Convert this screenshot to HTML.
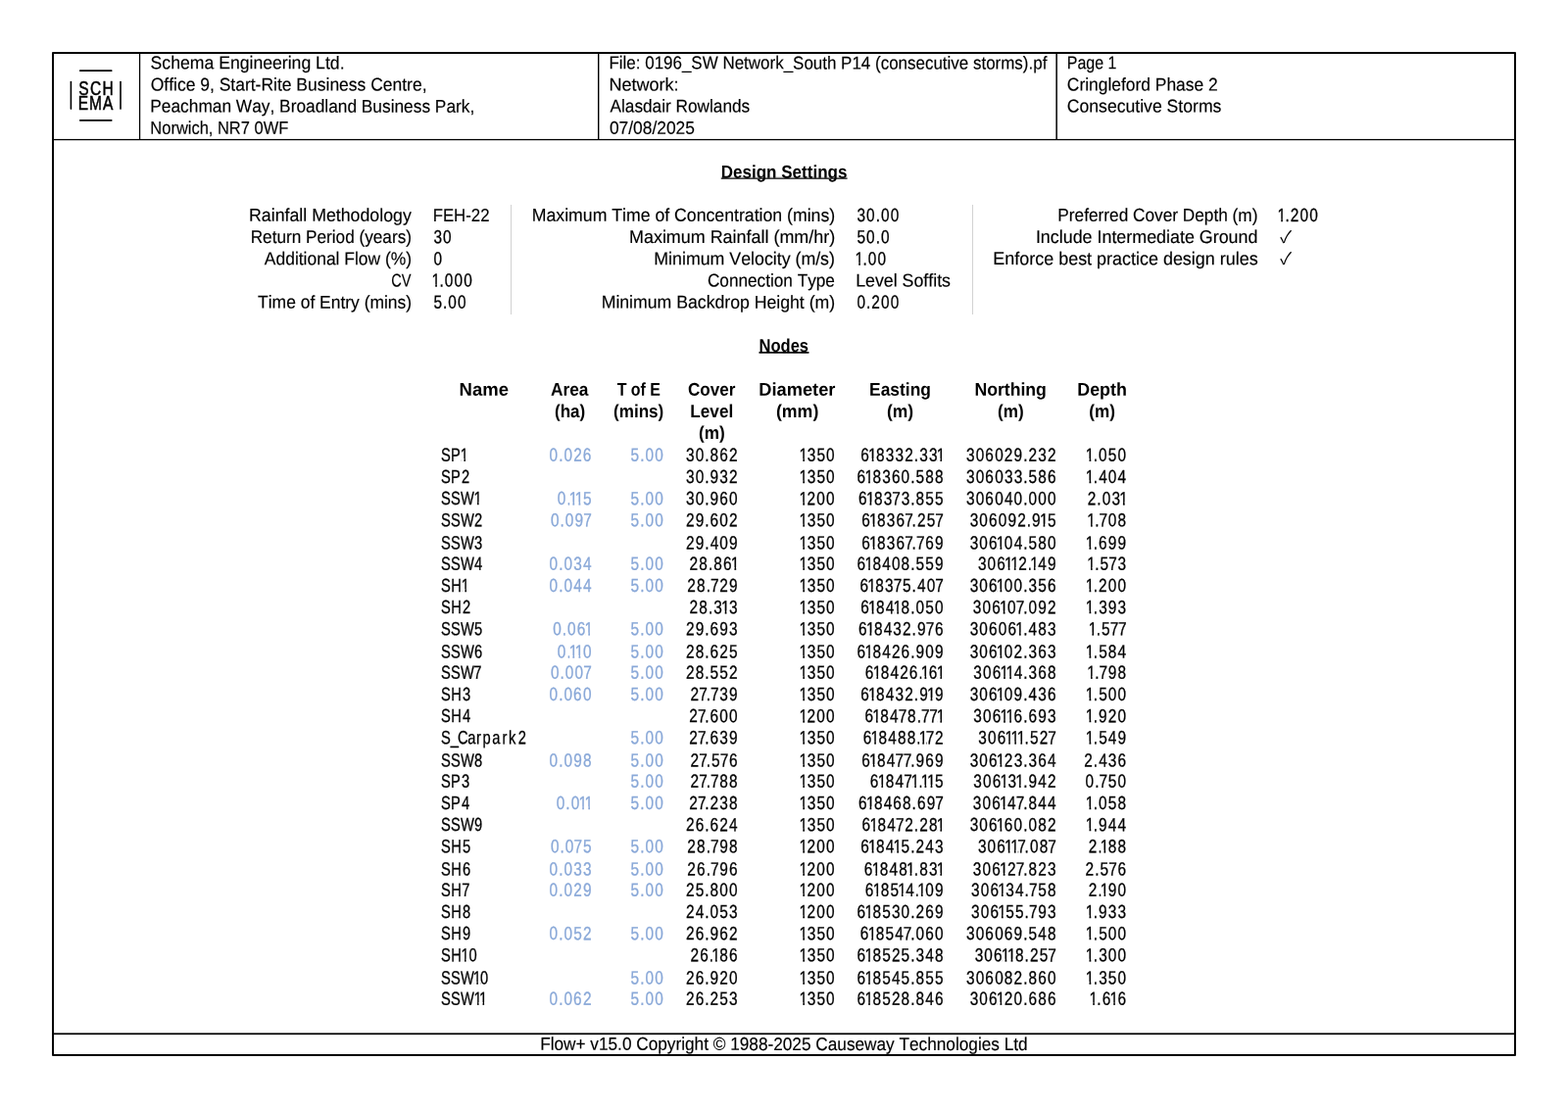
<!DOCTYPE html>
<html lang="en">
<head>
<meta charset="utf-8">
<title>Flow+ Design Settings and Nodes</title>
<style>
*{box-sizing:border-box;margin:0;padding:0}
html,body{width:1600px;height:1132px;background:#fff;overflow:hidden}
body{font-family:"Liberation Sans",sans-serif;font-size:18.5px;line-height:21px;color:#000;
font-kerning:none;-webkit-text-stroke:0.15px currentColor}
.page{position:relative;width:1600px;height:1132px;overflow:hidden}
.rules{position:absolute;left:0;top:0;width:1600px;height:1132px}
.t{display:block;white-space:nowrap;transform:translate(var(--o,0px),var(--y,0px)) rotate(.04deg) scaleX(var(--s,.9))}
.hc{position:absolute;top:53px;height:89px;overflow:hidden}
.hc div{height:22px}
.hc div:nth-child(3){height:23px}
.hc .t{transform-origin:0 50%}
.logo{position:absolute;left:55px;top:55px;width:87px;height:87px}
h1,h2{position:absolute;left:0;width:1600px;text-align:center;font-size:18.5px;font-weight:700;
line-height:21px;-webkit-text-stroke:0}
h1 .t,h2 .t{display:inline-block;background:linear-gradient(#808080 50%,#000 50%) no-repeat 0 16px/100% 2px}
h2 .t{background-image:linear-gradient(#000 50%,#444 50%);background-position:0 17px}
.set{position:absolute;border-collapse:collapse}
.set td{padding:0;height:22px;white-space:nowrap;vertical-align:top}
.set .x td{height:23px}
.set .v{font-size:18.6px}
.set .k{width:400px;text-align:right}
.set .k .t{transform-origin:100% 50%}
.set .v .t{transform-origin:0 50%}
.set svg{display:block;width:60px;height:21px;overflow:visible}
.set text{font-size:19px;fill:#000;stroke:#000;stroke-width:0.3px;transform:rotate(.05deg) scaleX(0.81)}
.set path{fill:#fff}
.set .ck text{font-family:"Noto Sans CJK JP","DejaVu Sans",sans-serif;font-size:17.2px;stroke:none;transform:none}
.vr{position:absolute;top:208.5px;width:1.2px;height:112px;background:#d2d2d2}
.nt{position:absolute;left:0;top:387px;width:1600px;border-collapse:collapse;table-layout:fixed}
.nt th{padding:0;font-weight:700;text-align:center;vertical-align:top;height:66px;-webkit-text-stroke:0}
.nt th .t{height:22px}
.nt th .t{transform-origin:50% 50%}
.nt td{padding:0;height:22px;line-height:0}
.nt .x td{height:23px}
.nt svg{display:block;width:100%;height:22px;overflow:visible}
.nt text{font-size:19px;fill:#000;stroke:#000;stroke-width:0.3px;transform:rotate(.05deg) scaleX(0.81)}
.nt .m text{transform:rotate(.05deg) scaleX(0.772)}
.nt .b text{fill:#89a8d8;stroke:#89a8d8}
.nt path{fill:#fff}
.foot{position:absolute;left:55px;top:1055px;width:1490px;text-align:center}
.foot .t{display:inline-block}
</style>
</head>
<body>
<div class="page">
<svg class="rules" viewBox="0 0 1600 1132" aria-hidden="true">
<rect x="54" y="54" width="1492" height="1023" fill="none" stroke="#000" stroke-width="2" stroke-linejoin="round"/>
<rect x="55" y="141.9" width="1490" height="1.3" fill="#000"/>
<rect x="141.9" y="55" width="1.3" height="87" fill="#000"/>
<rect x="610" y="55" width="1.4" height="87" fill="#000"/>
<rect x="1077.4" y="55" width="1.5" height="87" fill="#000"/>
<rect x="55" y="1054.4" width="1490" height="1.7" fill="#000"/>
</svg>
<svg class="logo" viewBox="55 55 87 87" role="img" aria-label="Schema">
<g stroke="#000" stroke-width="1.6" stroke-linecap="round"><line x1="81.7" y1="72.15" x2="113.8" y2="72.15"/><line x1="81.7" y1="122.9" x2="113.8" y2="122.9"/>
<line x1="72.4" y1="83.5" x2="72.4" y2="111.1"/><line x1="123" y1="83.5" x2="123" y2="111.1"/></g>
<g font-family="Liberation Sans, sans-serif" font-size="19.4" fill="#000" stroke="#000" stroke-width=".5" transform="scale(0.8 1)">
<text x="100.3 114.9 130.7" y="97.05">SCH</text>
<text x="99.6 113.9 131.2" y="111.8">EMA</text></g>
</svg>
<header>
<div class="hc" style="left:143.2px;width:466.8px;padding-left:11.3px">
<div class="t" style="--y:0.25px;--s:0.9528;--o:-0.41px;">Schema Engineering Ltd.</div>
<div class="t" style="--y:0.40px;--s:0.9452;--o:-0.30px;">Office 9, Start-Rite Business Centre,</div>
<div class="t" style="--y:0.50px;--s:0.9356;--o:-0.69px;">Peachman Way, Broadland Business Park,</div>
<div class="t" style="--y:-0.35px;--s:0.8901;--o:-0.64px;">Norwich, NR7 0WF</div>
</div>
<div class="hc" style="left:611.4px;width:457.3px;padding-left:11.2px">
<div class="t" style="--y:0.25px;--s:0.9170;--o:-1.56px;">File: 0196_SW Network_South P14 (consecutive storms).pf</div>
<div class="t" style="--y:0.40px;--s:0.9746;--o:-1.60px;">Network:</div>
<div class="t" style="--y:0.50px;--s:0.9314;--o:-0.52px;">Alasdair Rowlands</div>
<div class="t" style="--y:-0.35px;--s:0.9398;--o:-1.06px;">07/08/2025</div>
</div>
<div class="hc" style="left:1078.9px;width:466.1px;padding-left:10.9px">
<div class="t" style="--y:0.25px;--s:0.8629;--o:-1.25px;">Page 1</div>
<div class="t" style="--y:0.40px;--s:0.9405;--o:-1.14px;">Cringleford Phase 2</div>
<div class="t" style="--y:0.50px;--s:0.9525;--o:-1.25px;">Consecutive Storms</div>
</div>
</header>
<main>
<h1 style="top:165px"><span class="t" style="--y:-0.30px;--s:0.9203;--o:0.19px;">Design Settings</span></h1>
<table class="set" style="left:20.0px;top:209px"><tbody>
<tr><td class="k"><span class="t" style="--y:-0.10px;--s:0.9591;--o:-0.23px;">Rainfall Methodology</span></td><td style="width:22.4px"></td><td class="v"><span class="t" style="--y:-0.10px;--s:0.9021;--o:-0.33px;">FEH-22</span></td></tr>
<tr><td class="k"><span class="t" style="--y:0.10px;--s:0.9289;--o:-0.03px;">Return Period (years)</span></td><td style="width:22.4px"></td><td class="v"><svg><text x="0.6 12.5" y="17.2">30</text></svg></td></tr>
<tr><td class="k"><span class="t" style="--y:0.30px;--s:0.9428;--o:0.11px;">Additional Flow (%)</span></td><td style="width:22.4px"></td><td class="v"><svg><text x="0.5" y="17.4">0</text></svg></td></tr>
<tr class="x"><td class="k"><span class="t" style="--y:0.50px;--s:0.7871;--o:-0.59px;">CV</span></td><td style="width:22.4px"></td><td class="v"><svg><text x="-1.9 7.9 14.5 26.5 38.5" y="17.6">1.000</text><path d="M-1.9 15.0h4.1v4.3h-4.1zM3.9 15.0h3.0v4.3h-3.0z"/></svg></td></tr>
<tr><td class="k"><span class="t" style="--y:-0.30px;--s:0.9430;--o:0.12px;">Time of Entry (mins)</span></td><td style="width:22.4px"></td><td class="v"><svg><text x="0.5 12.4 19.0 31.0" y="16.8">5.00</text></svg></td></tr>
</tbody></table>
<table class="set" style="left:451.6px;top:209px"><tbody>
<tr><td class="k"><span class="t" style="--y:-0.10px;--s:0.9554;--o:0.17px;">Maximum Time of Concentration (mins)</span></td><td style="width:22.4px"></td><td class="v"><svg><text x="0.6 12.5 24.4 31.0 43.0" y="17.0">30.00</text></svg></td></tr>
<tr><td class="k"><span class="t" style="--y:0.10px;--s:0.9689;--o:0.17px;">Maximum Rainfall (mm/hr)</span></td><td style="width:22.4px"></td><td class="v"><svg><text x="0.5 12.5 24.4 31.0" y="17.2">50.0</text></svg></td></tr>
<tr><td class="k"><span class="t" style="--y:0.30px;--s:0.9605;--o:-0.06px;">Minimum Velocity (m/s)</span></td><td style="width:22.4px"></td><td class="v"><svg><text x="-1.9 7.9 14.5 26.5" y="17.4">1.00</text><path d="M-1.9 14.8h4.1v4.3h-4.1zM3.9 14.8h3.0v4.3h-3.0z"/></svg></td></tr>
<tr class="x"><td class="k"><span class="t" style="--y:0.50px;--s:0.9291;--o:-0.11px;">Connection Type</span></td><td style="width:22.4px"></td><td class="v"><span class="t" style="--y:0.50px;--s:0.9557;--o:-0.82px;">Level Soffits</span></td></tr>
<tr><td class="k"><span class="t" style="--y:-0.30px;--s:0.9547;--o:0.18px;">Minimum Backdrop Height (m)</span></td><td style="width:22.4px"></td><td class="v"><svg><text x="0.5 12.4 19.0 31.0 43.0" y="16.8">0.200</text></svg></td></tr>
</tbody></table>
<table class="set" style="left:883.0px;top:209px"><tbody>
<tr><td class="k"><span class="t" style="--y:-0.10px;--s:0.9321;--o:0.47px;">Preferred Cover Depth (m)</span></td><td style="width:21.8px"></td><td class="v"><svg><text x="-1.9 7.9 14.5 26.5 38.5" y="17.0">1.200</text><path d="M-1.9 14.4h4.1v4.3h-4.1zM3.9 14.4h3.0v4.3h-3.0z"/></svg></td></tr>
<tr><td class="k"><span class="t" style="--y:0.10px;--s:0.9660;--o:0.42px;">Include Intermediate Ground</span></td><td style="width:21.8px"></td><td class="v"><svg class="ck"><text x="1.2" y="16.7">✓</text></svg></td></tr>
<tr><td class="k"><span class="t" style="--y:0.30px;--s:0.9700;--o:0.68px;">Enforce best practice design rules</span></td><td style="width:21.8px"></td><td class="v"><svg class="ck"><text x="1.2" y="16.9">✓</text></svg></td></tr>
</tbody></table>
<div class="vr" style="left:520.7px"></div>
<div class="vr" style="left:991.5px"></div>
<h2 style="top:342px"><span class="t" style="--s:0.8934;--o:-0.48px;">Nodes</span></h2>
<table class="nt"><colgroup>
<col style="width:450px">
<col style="width:88px">
<col style="width:66px">
<col style="width:73px">
<col style="width:76px">
<col style="width:99px">
<col style="width:111px">
<col style="width:115px">
<col style="width:72px">
<col style="width:450px"></colgroup>
<thead><tr><th></th>
<th><span class="t" style="--y:-0.30px;--s:1.0006;--o:-0.24px;">Name</span></th>
<th style="padding-left:21.0px"><span class="t" style="--y:-0.30px;--s:0.9353;--o:-0.27px;">Area</span> <span class="t" style="--y:-0.10px;--s:0.9233;--o:0.11px;">(ha)</span></th>
<th style="padding-left:22.0px"><span class="t" style="--y:-0.30px;--s:0.8611;--o:0.12px;">T of E</span> <span class="t" style="--y:-0.10px;--s:0.9230;--o:-1.93px;">(mins)</span></th>
<th style="padding-left:22.8px"><span class="t" style="--y:-0.30px;--s:0.9224;--o:-0.43px;">Cover</span> <span class="t" style="--y:-0.10px;--s:0.9263;--o:-0.31px;">Level</span> <span class="t" style="--y:0.10px;--s:0.9291;--o:-0.27px;">(m)</span></th>
<th style="padding-left:22.5px"><span class="t" style="--y:-0.30px;--s:0.9869;--o:-2.23px;">Diameter</span> <span class="t" style="--y:-0.10px;--s:0.9592;--o:-0.62px;">(mm)</span></th>
<th style="padding-left:22.0px"><span class="t" style="--y:-0.30px;--s:0.9392;">Easting</span> <span class="t" style="--y:-0.10px;--s:0.9429;--o:0.05px;">(m)</span></th>
<th style="padding-left:21.5px"><span class="t" style="--y:-0.30px;--s:0.9537;--o:-0.61px;">Northing</span> <span class="t" style="--y:-0.10px;--s:0.9261;--o:-0.40px;">(m)</span></th>
<th style="padding-left:21.2px"><span class="t" style="--y:-0.30px;--s:0.9644;--o:-0.62px;">Depth</span> <span class="t" style="--y:-0.10px;--s:0.9258;--o:0.17px;">(m)</span></th>
<th></th></tr></thead><tbody>
<tr><td></td><td class="m"><svg><text x="-0.1 13.1 25.7" y="17.7">SP1</text><path d="M20.4 15.1h3.0v4.3h-3.0zM25.0 15.1h3.9v4.3h-3.9z"/></svg></td><td class="b"><svg><text x="27.8 39.7 46.3 58.3 70.2" y="17.7">0.026</text></svg></td><td class="b"><svg><text x="48.9 60.7 67.3 79.3" y="17.7">5.00</text></svg></td><td><svg><text x="28.4 40.4 52.2 58.8 70.7 82.8" y="17.7">30.862</text></svg></td><td><svg><text x="77.3 87.3 99.3 111.2" y="17.7">1350</text><path d="M62.2 15.1h4.1v4.3h-4.1zM68.0 15.1h3.0v4.3h-3.0z"/></svg></td><td><svg><text x="32.4 42.1 52.0 64.0 76.0 88.0 99.8 106.5 118.5 128.0" y="17.7">618332.331</text><path d="M34.6 15.1h3.1v4.3h-3.1zM39.5 15.1h3.0v4.3h-3.0zM104.3 15.1h3.1v4.3h-3.1zM109.1 15.1h4.0v4.3h-4.0z"/></svg></td><td><svg><text x="28.5 40.4 52.3 64.4 76.4 88.4 100.2 106.8 118.9 130.8" y="17.7">306029.232</text></svg></td><td><svg><text x="36.9 46.7 53.2 65.3 77.2" y="17.7">1.050</text><path d="M29.4 15.1h4.1v4.3h-4.1zM35.3 15.1h3.0v4.3h-3.0z"/></svg></td><td></td></tr>
<tr><td></td><td class="m"><svg><text x="-0.1 13.1 27.2" y="17.9">SP2</text></svg></td><td></td><td></td><td><svg><text x="28.4 40.4 52.2 58.8 70.8 82.8" y="17.9">30.932</text></svg></td><td><svg><text x="77.3 87.3 99.3 111.2" y="17.9">1350</text><path d="M62.2 15.3h4.1v4.3h-4.1zM68.0 15.3h3.0v4.3h-3.0z"/></svg></td><td><svg><text x="27.9 37.6 47.5 59.6 71.5 83.5 95.4 102.0 113.9 125.9" y="17.9">618360.588</text><path d="M31.0 15.3h3.1v4.3h-3.1zM35.9 15.3h3.0v4.3h-3.0z"/></svg></td><td><svg><text x="28.5 40.4 52.3 64.4 76.5 88.5 100.2 106.8 118.8 130.8" y="17.9">306033.586</text></svg></td><td><svg><text x="36.9 46.7 53.3 65.2 77.3" y="17.9">1.404</text><path d="M29.4 15.3h4.1v4.3h-4.1zM35.3 15.3h3.0v4.3h-3.0z"/></svg></td><td></td></tr>
<tr><td></td><td class="m"><svg><text x="-0.1 13.1 26.0 43.3" y="18.1">SSW1</text><path d="M34.0 15.5h3.0v4.3h-3.0zM38.6 15.5h3.9v4.3h-3.9z"/></svg></td><td class="b"><svg><text x="38.0 49.9 52.8 60.3 70.3" y="18.1">0.115</text><path d="M43.3 15.5h3.1v4.3h-3.1zM48.2 15.5h3.0v4.3h-3.0zM49.4 15.5h3.1v4.3h-3.1zM54.3 15.5h3.0v4.3h-3.0z"/></svg></td><td class="b"><svg><text x="48.9 60.7 67.3 79.3" y="18.1">5.00</text></svg></td><td><svg><text x="28.4 40.4 52.2 58.8 70.7 82.8" y="18.1">30.960</text></svg></td><td><svg><text x="77.3 87.2 99.2 111.2" y="18.1">1200</text><path d="M62.2 15.5h4.1v4.3h-4.1zM68.0 15.5h3.0v4.3h-3.0z"/></svg></td><td><svg><text x="29.7 39.4 49.3 61.3 72.0 83.6 95.4 101.9 114.0 126.0" y="18.1">618373.855</text><path d="M32.4 15.5h3.1v4.3h-3.1zM37.3 15.5h3.0v4.3h-3.0z"/></svg></td><td><svg><text x="28.5 40.4 52.3 64.4 76.5 88.4 100.2 106.8 118.8 130.8" y="18.1">306040.000</text></svg></td><td><svg><text x="39.3 51.1 57.7 69.8 79.3" y="18.1">2.031</text><path d="M64.8 15.5h3.1v4.3h-3.1zM69.7 15.5h4.0v4.3h-4.0z"/></svg></td><td></td></tr>
<tr><td></td><td class="m"><svg><text x="-0.1 13.1 26.0 44.1" y="18.3">SSW2</text></svg></td><td class="b"><svg><text x="29.6 41.4 48.0 60.0 70.8" y="18.3">0.097</text></svg></td><td class="b"><svg><text x="48.9 60.7 67.3 79.3" y="18.3">5.00</text></svg></td><td><svg><text x="28.4 40.4 52.2 58.7 70.8 82.8" y="18.3">29.602</text></svg></td><td><svg><text x="77.3 87.3 99.3 111.2" y="18.3">1350</text><path d="M62.2 15.7h4.1v4.3h-4.1zM68.0 15.7h3.0v4.3h-3.0z"/></svg></td><td><svg><text x="33.7 43.3 53.2 65.3 77.2 88.0 97.1 103.7 115.7 126.4" y="18.3">618367.257</text><path d="M35.7 15.7h3.1v4.3h-3.1zM40.5 15.7h3.0v4.3h-3.0z"/></svg></td><td><svg><text x="32.9 44.9 56.8 68.9 80.9 92.9 104.7 111.3 120.9 130.8" y="18.3">306092.915</text><path d="M98.5 15.7h3.1v4.3h-3.1zM103.3 15.7h3.0v4.3h-3.0z"/></svg></td><td><svg><text x="38.7 48.4 53.7 65.2 77.2" y="18.3">1.708</text><path d="M30.9 15.7h4.1v4.3h-4.1zM36.7 15.7h3.0v4.3h-3.0z"/></svg></td><td></td></tr>
<tr class="x"><td></td><td class="m"><svg><text x="-0.1 13.1 26.0 44.1" y="18.5">SSW3</text></svg></td><td></td><td></td><td><svg><text x="28.4 40.4 52.2 58.9 70.8 82.8" y="18.5">29.409</text></svg></td><td><svg><text x="77.3 87.3 99.3 111.2" y="18.5">1350</text><path d="M62.2 15.9h4.1v4.3h-4.1zM68.0 15.9h3.0v4.3h-3.0z"/></svg></td><td><svg><text x="33.7 43.3 53.2 65.3 77.2 88.0 97.1 102.4 113.9 125.9" y="18.5">618367.769</text><path d="M35.7 15.9h3.1v4.3h-3.1zM40.5 15.9h3.0v4.3h-3.0z"/></svg></td><td><svg><text x="32.9 44.9 56.8 66.5 76.4 88.5 100.2 106.8 118.8 130.8" y="18.5">306104.580</text><path d="M54.4 15.9h3.1v4.3h-3.1zM59.3 15.9h3.0v4.3h-3.0z"/></svg></td><td><svg><text x="36.9 46.7 53.2 65.2 77.2" y="18.5">1.699</text><path d="M29.4 15.9h4.1v4.3h-4.1zM35.3 15.9h3.0v4.3h-3.0z"/></svg></td><td></td></tr>
<tr><td></td><td class="m"><svg><text x="-0.1 13.1 26.0 44.1" y="17.7">SSW4</text></svg></td><td class="b"><svg><text x="27.8 39.7 46.3 58.3 70.3" y="17.7">0.034</text></svg></td><td class="b"><svg><text x="48.9 60.7 67.3 79.3" y="17.7">5.00</text></svg></td><td><svg><text x="32.8 44.8 56.7 63.3 75.2 84.9" y="17.7">28.861</text><path d="M69.3 15.1h3.1v4.3h-3.1zM74.2 15.1h4.0v4.3h-4.0z"/></svg></td><td><svg><text x="77.3 87.3 99.3 111.2" y="17.7">1350</text><path d="M62.2 15.1h4.1v4.3h-4.1zM68.0 15.1h3.0v4.3h-3.0z"/></svg></td><td><svg><text x="27.9 37.6 47.5 59.6 71.5 83.5 95.4 102.0 114.0 125.9" y="17.7">618408.559</text><path d="M31.0 15.1h3.1v4.3h-3.1zM35.9 15.1h3.0v4.3h-3.0z"/></svg></td><td><svg><text x="43.1 55.0 67.0 76.7 84.2 94.1 106.0 108.9 118.9 130.8" y="17.7">306112.149</text><path d="M62.6 15.1h3.1v4.3h-3.1zM67.5 15.1h3.0v4.3h-3.0zM68.7 15.1h3.1v4.3h-3.1zM73.6 15.1h3.0v4.3h-3.0zM88.8 15.1h3.1v4.3h-3.1zM93.6 15.1h3.0v4.3h-3.0z"/></svg></td><td><svg><text x="38.7 48.4 55.0 65.7 77.3" y="17.7">1.573</text><path d="M30.9 15.1h4.1v4.3h-4.1zM36.7 15.1h3.0v4.3h-3.0z"/></svg></td><td></td></tr>
<tr><td></td><td class="m"><svg><text x="-0.1 13.3 27.0" y="17.9">SH1</text><path d="M21.4 15.3h3.0v4.3h-3.0zM26.0 15.3h3.9v4.3h-3.9z"/></svg></td><td class="b"><svg><text x="27.8 39.7 46.3 58.3 70.3" y="17.9">0.044</text></svg></td><td class="b"><svg><text x="48.9 60.7 67.3 79.3" y="17.9">5.00</text></svg></td><td><svg><text x="30.1 42.1 54.0 59.3 70.8 82.8" y="17.9">28.729</text></svg></td><td><svg><text x="77.3 87.3 99.3 111.2" y="17.9">1350</text><path d="M62.2 15.3h4.1v4.3h-4.1zM68.0 15.3h3.0v4.3h-3.0z"/></svg></td><td><svg><text x="31.4 41.1 51.0 63.1 73.8 85.3 97.1 103.8 115.7 126.4" y="17.9">618375.407</text><path d="M33.9 15.3h3.1v4.3h-3.1zM38.7 15.3h3.0v4.3h-3.0z"/></svg></td><td><svg><text x="32.9 44.9 56.8 66.5 76.4 88.4 100.2 106.9 118.8 130.8" y="17.9">306100.356</text><path d="M54.4 15.3h3.1v4.3h-3.1zM59.3 15.3h3.0v4.3h-3.0z"/></svg></td><td><svg><text x="36.9 46.7 53.2 65.2 77.2" y="17.9">1.200</text><path d="M29.4 15.3h4.1v4.3h-4.1zM35.3 15.3h3.0v4.3h-3.0z"/></svg></td><td></td></tr>
<tr><td></td><td class="m"><svg><text x="-0.1 13.3 28.5" y="18.1">SH2</text></svg></td><td></td><td></td><td><svg><text x="32.8 44.8 56.7 63.3 72.9 82.8" y="18.1">28.313</text><path d="M59.6 15.5h3.1v4.3h-3.1zM64.4 15.5h3.0v4.3h-3.0z"/></svg></td><td><svg><text x="77.3 87.3 99.3 111.2" y="18.1">1350</text><path d="M62.2 15.5h4.1v4.3h-4.1zM68.0 15.5h3.0v4.3h-3.0z"/></svg></td><td><svg><text x="32.4 42.1 52.0 64.0 73.6 83.5 95.4 101.9 114.0 125.9" y="18.1">618418.050</text><path d="M34.6 15.5h3.1v4.3h-3.1zM39.5 15.5h3.0v4.3h-3.0zM60.2 15.5h3.1v4.3h-3.1zM65.0 15.5h3.0v4.3h-3.0z"/></svg></td><td><svg><text x="36.9 48.8 60.8 70.5 80.4 91.1 100.2 106.8 118.8 130.8" y="18.1">306107.092</text><path d="M57.6 15.5h3.1v4.3h-3.1zM62.5 15.5h3.0v4.3h-3.0z"/></svg></td><td><svg><text x="36.9 46.7 53.3 65.2 77.3" y="18.1">1.393</text><path d="M29.4 15.5h4.1v4.3h-4.1zM35.3 15.5h3.0v4.3h-3.0z"/></svg></td><td></td></tr>
<tr><td></td><td class="m"><svg><text x="-0.1 13.1 26.0 44.1" y="18.3">SSW5</text></svg></td><td class="b"><svg><text x="32.3 44.2 50.7 62.7 72.3" y="18.3">0.061</text><path d="M59.2 15.7h3.1v4.3h-3.1zM64.0 15.7h4.0v4.3h-4.0z"/></svg></td><td class="b"><svg><text x="48.9 60.7 67.3 79.3" y="18.3">5.00</text></svg></td><td><svg><text x="28.4 40.4 52.2 58.7 70.8 82.8" y="18.3">29.693</text></svg></td><td><svg><text x="77.3 87.3 99.3 111.2" y="18.3">1350</text><path d="M62.2 15.7h4.1v4.3h-4.1zM68.0 15.7h3.0v4.3h-3.0z"/></svg></td><td><svg><text x="29.7 39.4 49.3 61.3 73.3 85.3 97.1 103.7 114.4 125.9" y="18.3">618432.976</text><path d="M32.4 15.7h3.1v4.3h-3.1zM37.3 15.7h3.0v4.3h-3.0z"/></svg></td><td><svg><text x="32.9 44.9 56.8 68.9 80.8 90.5 100.2 106.9 118.8 130.9" y="18.3">306061.483</text><path d="M73.8 15.7h3.1v4.3h-3.1zM78.7 15.7h3.0v4.3h-3.0z"/></svg></td><td><svg><text x="40.4 50.2 56.8 67.5 77.7" y="18.3">1.577</text><path d="M32.3 15.7h4.1v4.3h-4.1zM38.1 15.7h3.0v4.3h-3.0z"/></svg></td><td></td></tr>
<tr class="x"><td></td><td class="m"><svg><text x="-0.1 13.1 26.0 44.0" y="18.5">SSW6</text></svg></td><td class="b"><svg><text x="38.0 49.9 52.8 60.3 70.3" y="18.5">0.110</text><path d="M43.3 15.9h3.1v4.3h-3.1zM48.2 15.9h3.0v4.3h-3.0zM49.4 15.9h3.1v4.3h-3.1zM54.3 15.9h3.0v4.3h-3.0z"/></svg></td><td class="b"><svg><text x="48.9 60.7 67.3 79.3" y="18.5">5.00</text></svg></td><td><svg><text x="28.4 40.4 52.2 58.7 70.8 82.8" y="18.5">28.625</text></svg></td><td><svg><text x="77.3 87.3 99.3 111.2" y="18.5">1350</text><path d="M62.2 15.9h4.1v4.3h-4.1zM68.0 15.9h3.0v4.3h-3.0z"/></svg></td><td><svg><text x="27.9 37.6 47.5 59.6 71.5 83.5 95.4 101.9 113.9 125.9" y="18.5">618426.909</text><path d="M31.0 15.9h3.1v4.3h-3.1zM35.9 15.9h3.0v4.3h-3.0z"/></svg></td><td><svg><text x="32.9 44.9 56.8 66.5 76.4 88.4 100.2 106.9 118.8 130.9" y="18.5">306102.363</text><path d="M54.4 15.9h3.1v4.3h-3.1zM59.3 15.9h3.0v4.3h-3.0z"/></svg></td><td><svg><text x="36.9 46.7 53.3 65.2 77.3" y="18.5">1.584</text><path d="M29.4 15.9h4.1v4.3h-4.1zM35.3 15.9h3.0v4.3h-3.0z"/></svg></td><td></td></tr>
<tr><td></td><td class="m"><svg><text x="-0.1 13.1 26.0 43.0" y="17.7">SSW7</text></svg></td><td class="b"><svg><text x="29.6 41.4 48.0 60.0 70.8" y="17.7">0.007</text></svg></td><td class="b"><svg><text x="48.9 60.7 67.3 79.3" y="17.7">5.00</text></svg></td><td><svg><text x="28.4 40.4 52.2 58.8 70.8 82.8" y="17.7">28.552</text></svg></td><td><svg><text x="77.3 87.3 99.3 111.2" y="17.7">1350</text><path d="M62.2 15.1h4.1v4.3h-4.1zM68.0 15.1h3.0v4.3h-3.0z"/></svg></td><td><svg><text x="38.1 47.8 57.7 69.8 81.7 93.6 105.5 108.5 118.3 128.0" y="17.7">618426.161</text><path d="M39.3 15.1h3.1v4.3h-3.1zM44.1 15.1h3.0v4.3h-3.0zM88.4 15.1h3.1v4.3h-3.1zM93.3 15.1h3.0v4.3h-3.0zM104.3 15.1h3.1v4.3h-3.1zM109.1 15.1h4.0v4.3h-4.0z"/></svg></td><td><svg><text x="37.4 49.3 61.3 71.0 78.5 88.5 100.2 106.9 118.8 130.8" y="17.7">306114.368</text><path d="M58.0 15.1h3.1v4.3h-3.1zM62.9 15.1h3.0v4.3h-3.0zM64.1 15.1h3.1v4.3h-3.1zM69.0 15.1h3.0v4.3h-3.0z"/></svg></td><td><svg><text x="38.7 48.4 53.7 65.2 77.2" y="17.7">1.798</text><path d="M30.9 15.1h4.1v4.3h-4.1zM36.7 15.1h3.0v4.3h-3.0z"/></svg></td><td></td></tr>
<tr><td></td><td class="m"><svg><text x="-0.1 13.3 28.6" y="17.9">SH3</text></svg></td><td class="b"><svg><text x="27.8 39.7 46.3 58.2 70.3" y="17.9">0.060</text></svg></td><td class="b"><svg><text x="48.9 60.7 67.3 79.3" y="17.9">5.00</text></svg></td><td><svg><text x="34.1 44.8 54.0 59.3 70.8 82.8" y="17.9">27.739</text></svg></td><td><svg><text x="77.3 87.3 99.3 111.2" y="17.9">1350</text><path d="M62.2 15.3h4.1v4.3h-4.1zM68.0 15.3h3.0v4.3h-3.0z"/></svg></td><td><svg><text x="32.4 42.1 52.0 64.0 76.0 88.0 99.8 106.4 116.0 125.9" y="17.9">618432.919</text><path d="M34.6 15.3h3.1v4.3h-3.1zM39.5 15.3h3.0v4.3h-3.0zM94.5 15.3h3.1v4.3h-3.1zM99.4 15.3h3.0v4.3h-3.0z"/></svg></td><td><svg><text x="32.9 44.9 56.8 66.5 76.4 88.4 100.2 106.9 118.9 130.8" y="17.9">306109.436</text><path d="M54.4 15.3h3.1v4.3h-3.1zM59.3 15.3h3.0v4.3h-3.0z"/></svg></td><td><svg><text x="36.9 46.7 53.3 65.2 77.2" y="17.9">1.500</text><path d="M29.4 15.3h4.1v4.3h-4.1zM35.3 15.3h3.0v4.3h-3.0z"/></svg></td><td></td></tr>
<tr><td></td><td class="m"><svg><text x="-0.1 13.3 28.6" y="18.1">SH4</text></svg></td><td></td><td></td><td><svg><text x="32.3 43.1 52.2 58.7 70.8 82.8" y="18.1">27.600</text></svg></td><td><svg><text x="77.3 87.2 99.2 111.2" y="18.1">1200</text><path d="M62.2 15.5h4.1v4.3h-4.1zM68.0 15.5h3.0v4.3h-3.0z"/></svg></td><td><svg><text x="37.7 47.3 57.2 69.3 80.0 91.5 103.3 108.7 118.9 128.0" y="18.1">618478.771</text><path d="M38.9 15.5h3.1v4.3h-3.1zM43.7 15.5h3.0v4.3h-3.0zM104.3 15.5h3.1v4.3h-3.1zM109.1 15.5h4.0v4.3h-4.0z"/></svg></td><td><svg><text x="37.4 49.3 61.3 71.0 78.5 88.3 100.2 106.8 118.8 130.9" y="18.1">306116.693</text><path d="M58.0 15.5h3.1v4.3h-3.1zM62.9 15.5h3.0v4.3h-3.0zM64.1 15.5h3.1v4.3h-3.1zM69.0 15.5h3.0v4.3h-3.0z"/></svg></td><td><svg><text x="36.9 46.7 53.2 65.2 77.2" y="18.1">1.920</text><path d="M29.4 15.5h4.1v4.3h-4.1zM35.3 15.5h3.0v4.3h-3.0z"/></svg></td><td></td></tr>
<tr><td></td><td class="m"><svg><text x="-0.1 12.8 22.0 35.4 46.8 55.1 67.8 81.1 89.5 102.2" y="18.3">S_Carpark2</text></svg></td><td></td><td class="b"><svg><text x="48.9 60.7 67.3 79.3" y="18.3">5.00</text></svg></td><td><svg><text x="32.3 43.1 52.2 58.7 70.8 82.8" y="18.3">27.639</text></svg></td><td><svg><text x="77.3 87.3 99.3 111.2" y="18.3">1350</text><path d="M62.2 15.7h4.1v4.3h-4.1zM68.0 15.7h3.0v4.3h-3.0z"/></svg></td><td><svg><text x="35.4 45.1 55.0 67.0 79.0 91.0 102.8 105.8 114.4 125.9" y="18.3">618488.172</text><path d="M37.1 15.7h3.1v4.3h-3.1zM41.9 15.7h3.0v4.3h-3.0zM86.2 15.7h3.1v4.3h-3.1zM91.1 15.7h2.1v4.3h-2.1z"/></svg></td><td><svg><text x="43.6 55.6 67.5 77.2 84.7 92.2 102.0 108.6 120.6 131.3" y="18.3">306111.527</text><path d="M63.1 15.7h3.1v4.3h-3.1zM67.9 15.7h3.0v4.3h-3.0zM69.2 15.7h3.1v4.3h-3.1zM74.0 15.7h3.0v4.3h-3.0zM75.3 15.7h3.1v4.3h-3.1zM80.1 15.7h3.0v4.3h-3.0z"/></svg></td><td><svg><text x="36.9 46.7 53.3 65.3 77.2" y="18.3">1.549</text><path d="M29.4 15.7h4.1v4.3h-4.1zM35.3 15.7h3.0v4.3h-3.0z"/></svg></td><td></td></tr>
<tr class="x"><td></td><td class="m"><svg><text x="-0.1 13.1 26.0 44.1" y="18.5">SSW8</text></svg></td><td class="b"><svg><text x="27.8 39.7 46.3 58.3 70.3" y="18.5">0.098</text></svg></td><td class="b"><svg><text x="48.9 60.7 67.3 79.3" y="18.5">5.00</text></svg></td><td><svg><text x="34.1 44.8 54.0 60.6 71.3 82.7" y="18.5">27.576</text></svg></td><td><svg><text x="77.3 87.3 99.3 111.2" y="18.5">1350</text><path d="M62.2 15.9h4.1v4.3h-4.1zM68.0 15.9h3.0v4.3h-3.0z"/></svg></td><td><svg><text x="33.7 43.3 53.2 65.3 76.0 86.2 95.4 101.9 113.9 125.9" y="18.5">618477.969</text><path d="M35.7 15.9h3.1v4.3h-3.1zM40.5 15.9h3.0v4.3h-3.0z"/></svg></td><td><svg><text x="32.9 44.9 56.8 66.5 76.4 88.5 100.2 106.9 118.8 130.9" y="18.5">306123.364</text><path d="M54.4 15.9h3.1v4.3h-3.1zM59.3 15.9h3.0v4.3h-3.0z"/></svg></td><td><svg><text x="34.8 46.7 53.3 65.3 77.2" y="18.5">2.436</text></svg></td><td></td></tr>
<tr><td></td><td class="m"><svg><text x="-0.1 13.1 27.3" y="17.7">SP3</text></svg></td><td></td><td class="b"><svg><text x="48.9 60.7 67.3 79.3" y="17.7">5.00</text></svg></td><td><svg><text x="34.1 44.8 54.0 59.3 70.8 82.8" y="17.7">27.788</text></svg></td><td><svg><text x="77.3 87.3 99.3 111.2" y="17.7">1350</text><path d="M62.2 15.1h4.1v4.3h-4.1zM68.0 15.1h3.0v4.3h-3.0z"/></svg></td><td><svg><text x="44.3 54.0 63.9 76.0 86.7 95.8 105.5 108.5 116.0 126.0" y="17.7">618471.115</text><path d="M44.3 15.1h3.1v4.3h-3.1zM49.1 15.1h3.0v4.3h-3.0zM78.1 15.1h3.1v4.3h-3.1zM83.0 15.1h3.0v4.3h-3.0zM88.4 15.1h3.1v4.3h-3.1zM93.3 15.1h3.0v4.3h-3.0zM94.5 15.1h3.1v4.3h-3.1zM99.4 15.1h3.0v4.3h-3.0z"/></svg></td><td><svg><text x="37.4 49.3 61.3 71.0 80.9 90.5 100.2 106.8 118.9 130.8" y="17.7">306131.942</text><path d="M58.0 15.1h3.1v4.3h-3.1zM62.9 15.1h3.0v4.3h-3.0zM73.8 15.1h3.1v4.3h-3.1zM78.7 15.1h3.0v4.3h-3.0z"/></svg></td><td><svg><text x="36.6 48.4 53.7 65.3 77.2" y="17.7">0.750</text></svg></td><td></td></tr>
<tr><td></td><td class="m"><svg><text x="-0.1 13.1 27.3" y="17.9">SP4</text></svg></td><td class="b"><svg><text x="36.8 48.6 55.2 64.8 72.3" y="17.9">0.011</text><path d="M53.1 15.3h3.1v4.3h-3.1zM57.9 15.3h3.0v4.3h-3.0zM59.2 15.3h3.1v4.3h-3.1zM64.0 15.3h4.0v4.3h-4.0z"/></svg></td><td class="b"><svg><text x="48.9 60.7 67.3 79.3" y="17.9">5.00</text></svg></td><td><svg><text x="32.3 43.1 52.2 58.8 70.8 82.8" y="17.9">27.238</text></svg></td><td><svg><text x="77.3 87.3 99.3 111.2" y="17.9">1350</text><path d="M62.2 15.3h4.1v4.3h-4.1zM68.0 15.3h3.0v4.3h-3.0z"/></svg></td><td><svg><text x="29.7 39.4 49.3 61.3 73.2 85.3 97.1 103.6 115.7 126.4" y="17.9">618468.697</text><path d="M32.4 15.3h3.1v4.3h-3.1zM37.3 15.3h3.0v4.3h-3.0z"/></svg></td><td><svg><text x="36.9 48.8 60.8 70.5 80.4 91.1 100.2 106.8 118.9 130.9" y="17.9">306147.844</text><path d="M57.6 15.3h3.1v4.3h-3.1zM62.5 15.3h3.0v4.3h-3.0z"/></svg></td><td><svg><text x="36.9 46.7 53.2 65.3 77.2" y="17.9">1.058</text><path d="M29.4 15.3h4.1v4.3h-4.1zM35.3 15.3h3.0v4.3h-3.0z"/></svg></td><td></td></tr>
<tr><td></td><td class="m"><svg><text x="-0.1 13.1 26.0 44.1" y="18.1">SSW9</text></svg></td><td></td><td></td><td><svg><text x="28.4 40.3 52.2 58.7 70.8 82.9" y="18.1">26.624</text></svg></td><td><svg><text x="77.3 87.3 99.3 111.2" y="18.1">1350</text><path d="M62.2 15.5h4.1v4.3h-4.1zM68.0 15.5h3.0v4.3h-3.0z"/></svg></td><td><svg><text x="34.1 43.8 53.7 65.8 76.5 88.0 99.8 106.4 118.4 128.0" y="18.1">618472.281</text><path d="M36.1 15.5h3.1v4.3h-3.1zM40.9 15.5h3.0v4.3h-3.0zM104.3 15.5h3.1v4.3h-3.1zM109.1 15.5h4.0v4.3h-4.0z"/></svg></td><td><svg><text x="32.9 44.9 56.8 66.5 76.3 88.4 100.2 106.8 118.8 130.8" y="18.1">306160.082</text><path d="M54.4 15.5h3.1v4.3h-3.1zM59.3 15.5h3.0v4.3h-3.0z"/></svg></td><td><svg><text x="36.9 46.7 53.2 65.3 77.3" y="18.1">1.944</text><path d="M29.4 15.5h4.1v4.3h-4.1zM35.3 15.5h3.0v4.3h-3.0z"/></svg></td><td></td></tr>
<tr><td></td><td class="m"><svg><text x="-0.1 13.3 28.6" y="18.3">SH5</text></svg></td><td class="b"><svg><text x="29.6 41.4 48.0 58.8 70.3" y="18.3">0.075</text></svg></td><td class="b"><svg><text x="48.9 60.7 67.3 79.3" y="18.3">5.00</text></svg></td><td><svg><text x="30.1 42.1 54.0 59.3 70.8 82.8" y="18.3">28.798</text></svg></td><td><svg><text x="77.3 87.2 99.2 111.2" y="18.3">1200</text><path d="M62.2 15.7h4.1v4.3h-4.1zM68.0 15.7h3.0v4.3h-3.0z"/></svg></td><td><svg><text x="32.4 42.1 52.0 64.0 73.6 83.5 95.4 101.9 114.0 126.0" y="18.3">618415.243</text><path d="M34.6 15.7h3.1v4.3h-3.1zM39.5 15.7h3.0v4.3h-3.0zM60.2 15.7h3.1v4.3h-3.1zM65.0 15.7h3.0v4.3h-3.0z"/></svg></td><td><svg><text x="43.1 55.1 67.0 76.7 84.2 92.9 102.0 108.6 120.6 131.3" y="18.3">306117.087</text><path d="M62.7 15.7h3.1v4.3h-3.1zM67.5 15.7h3.0v4.3h-3.0zM68.8 15.7h3.1v4.3h-3.1zM73.6 15.7h2.1v4.3h-2.1z"/></svg></td><td><svg><text x="40.5 52.4 55.3 65.2 77.2" y="18.3">2.188</text><path d="M45.4 15.7h3.1v4.3h-3.1zM50.2 15.7h3.0v4.3h-3.0z"/></svg></td><td></td></tr>
<tr class="x"><td></td><td class="m"><svg><text x="-0.1 13.3 28.5" y="18.5">SH6</text></svg></td><td class="b"><svg><text x="27.8 39.7 46.3 58.3 70.3" y="18.5">0.033</text></svg></td><td class="b"><svg><text x="48.9 60.7 67.3 79.3" y="18.5">5.00</text></svg></td><td><svg><text x="30.1 42.1 54.0 59.3 70.8 82.7" y="18.5">26.796</text></svg></td><td><svg><text x="77.3 87.2 99.2 111.2" y="18.5">1200</text><path d="M62.2 15.9h4.1v4.3h-4.1zM68.0 15.9h3.0v4.3h-3.0z"/></svg></td><td><svg><text x="36.9 46.5 56.5 68.5 80.5 90.1 99.8 106.4 118.5 128.0" y="18.5">618481.831</text><path d="M38.3 15.9h3.1v4.3h-3.1zM43.1 15.9h3.0v4.3h-3.0zM73.5 15.9h3.1v4.3h-3.1zM78.4 15.9h3.0v4.3h-3.0zM104.3 15.9h3.1v4.3h-3.1zM109.1 15.9h4.0v4.3h-4.0z"/></svg></td><td><svg><text x="36.9 48.8 60.8 70.5 80.4 91.1 100.2 106.8 118.8 130.9" y="18.5">306127.823</text><path d="M57.6 15.9h3.1v4.3h-3.1zM62.5 15.9h3.0v4.3h-3.0z"/></svg></td><td><svg><text x="36.6 48.4 55.0 65.7 77.2" y="18.5">2.576</text></svg></td><td></td></tr>
<tr><td></td><td class="m"><svg><text x="-0.1 13.3 27.4" y="17.7">SH7</text></svg></td><td class="b"><svg><text x="27.8 39.7 46.3 58.3 70.3" y="17.7">0.029</text></svg></td><td class="b"><svg><text x="48.9 60.7 67.3 79.3" y="17.7">5.00</text></svg></td><td><svg><text x="28.4 40.4 52.2 58.8 70.8 82.8" y="17.7">25.800</text></svg></td><td><svg><text x="77.3 87.2 99.2 111.2" y="17.7">1200</text><path d="M62.2 15.1h4.1v4.3h-4.1zM68.0 15.1h3.0v4.3h-3.0z"/></svg></td><td><svg><text x="38.1 47.8 57.7 69.7 79.3 89.3 101.1 104.0 113.9 125.9" y="17.7">618514.109</text><path d="M39.3 15.1h3.1v4.3h-3.1zM44.1 15.1h3.0v4.3h-3.0zM64.8 15.1h3.1v4.3h-3.1zM69.6 15.1h3.0v4.3h-3.0zM84.8 15.1h3.1v4.3h-3.1zM89.7 15.1h3.0v4.3h-3.0z"/></svg></td><td><svg><text x="34.7 46.6 58.6 68.2 78.2 90.2 102.0 107.3 118.8 130.8" y="17.7">306134.758</text><path d="M55.8 15.1h3.1v4.3h-3.1zM60.7 15.1h3.0v4.3h-3.0z"/></svg></td><td><svg><text x="40.5 52.4 55.3 65.2 77.2" y="17.7">2.190</text><path d="M45.4 15.1h3.1v4.3h-3.1zM50.2 15.1h3.0v4.3h-3.0z"/></svg></td><td></td></tr>
<tr><td></td><td class="m"><svg><text x="-0.1 13.3 28.5" y="17.9">SH8</text></svg></td><td></td><td></td><td><svg><text x="28.4 40.4 52.2 58.8 70.8 82.8" y="17.9">24.053</text></svg></td><td><svg><text x="77.3 87.2 99.2 111.2" y="17.9">1200</text><path d="M62.2 15.3h4.1v4.3h-4.1zM68.0 15.3h3.0v4.3h-3.0z"/></svg></td><td><svg><text x="27.9 37.6 47.5 59.5 71.6 83.5 95.4 101.9 113.9 125.9" y="17.9">618530.269</text><path d="M31.0 15.3h3.1v4.3h-3.1zM35.9 15.3h3.0v4.3h-3.0z"/></svg></td><td><svg><text x="34.7 46.6 58.6 68.2 78.2 90.2 102.0 107.3 118.8 130.9" y="17.9">306155.793</text><path d="M55.8 15.3h3.1v4.3h-3.1zM60.7 15.3h3.0v4.3h-3.0z"/></svg></td><td><svg><text x="36.9 46.7 53.2 65.3 77.3" y="17.9">1.933</text><path d="M29.4 15.3h4.1v4.3h-4.1zM35.3 15.3h3.0v4.3h-3.0z"/></svg></td><td></td></tr>
<tr><td></td><td class="m"><svg><text x="-0.1 13.3 28.5" y="18.1">SH9</text></svg></td><td class="b"><svg><text x="27.8 39.7 46.3 58.3 70.3" y="18.1">0.052</text></svg></td><td class="b"><svg><text x="48.9 60.7 67.3 79.3" y="18.1">5.00</text></svg></td><td><svg><text x="28.4 40.3 52.2 58.8 70.7 82.8" y="18.1">26.962</text></svg></td><td><svg><text x="77.3 87.3 99.3 111.2" y="18.1">1350</text><path d="M62.2 15.5h4.1v4.3h-4.1zM68.0 15.5h3.0v4.3h-3.0z"/></svg></td><td><svg><text x="31.9 41.6 51.5 63.5 75.6 86.2 95.4 101.9 113.9 125.9" y="18.1">618547.060</text><path d="M34.2 15.5h3.1v4.3h-3.1zM39.1 15.5h3.0v4.3h-3.0z"/></svg></td><td><svg><text x="28.5 40.4 52.3 64.4 76.3 88.4 100.2 106.8 118.9 130.8" y="18.1">306069.548</text></svg></td><td><svg><text x="36.9 46.7 53.3 65.2 77.2" y="18.1">1.500</text><path d="M29.4 15.5h4.1v4.3h-4.1zM35.3 15.5h3.0v4.3h-3.0z"/></svg></td><td></td></tr>
<tr><td></td><td class="m"><svg><text x="-0.1 13.3 26.5 36.9" y="18.3">SH10</text><path d="M21.0 15.7h3.0v4.3h-3.0zM25.6 15.7h2.9v4.3h-2.9z"/></svg></td><td></td><td></td><td><svg><text x="34.1 46.0 57.9 60.9 70.8 82.7" y="18.3">26.186</text><path d="M49.9 15.7h3.1v4.3h-3.1zM54.7 15.7h3.0v4.3h-3.0z"/></svg></td><td><svg><text x="77.3 87.3 99.3 111.2" y="18.3">1350</text><path d="M62.2 15.7h4.1v4.3h-4.1zM68.0 15.7h3.0v4.3h-3.0z"/></svg></td><td><svg><text x="27.9 37.6 47.5 59.5 71.5 83.5 95.4 102.0 114.0 125.9" y="18.3">618525.348</text><path d="M31.0 15.7h3.1v4.3h-3.1zM35.9 15.7h3.0v4.3h-3.0z"/></svg></td><td><svg><text x="39.1 51.1 63.0 72.7 80.2 90.1 102.0 108.6 120.6 131.3" y="18.3">306118.257</text><path d="M59.4 15.7h3.1v4.3h-3.1zM64.3 15.7h3.0v4.3h-3.0zM65.5 15.7h3.1v4.3h-3.1zM70.4 15.7h3.0v4.3h-3.0z"/></svg></td><td><svg><text x="36.9 46.7 53.3 65.2 77.2" y="18.3">1.300</text><path d="M29.4 15.7h4.1v4.3h-4.1zM35.3 15.7h3.0v4.3h-3.0z"/></svg></td><td></td></tr>
<tr class="x"><td></td><td class="m"><svg><text x="-0.1 13.1 26.0 42.4 52.0" y="18.5">SSW10</text><path d="M33.3 15.9h3.0v4.3h-3.0zM37.9 15.9h2.6v4.3h-2.6z"/></svg></td><td></td><td class="b"><svg><text x="48.9 60.7 67.3 79.3" y="18.5">5.00</text></svg></td><td><svg><text x="28.4 40.3 52.2 58.8 70.8 82.8" y="18.5">26.920</text></svg></td><td><svg><text x="77.3 87.3 99.3 111.2" y="18.5">1350</text><path d="M62.2 15.9h4.1v4.3h-4.1zM68.0 15.9h3.0v4.3h-3.0z"/></svg></td><td><svg><text x="27.9 37.6 47.5 59.5 71.6 83.5 95.4 101.9 114.0 126.0" y="18.5">618545.855</text><path d="M31.0 15.9h3.1v4.3h-3.1zM35.9 15.9h3.0v4.3h-3.0z"/></svg></td><td><svg><text x="28.5 40.4 52.3 64.4 76.4 88.4 100.2 106.8 118.8 130.8" y="18.5">306082.860</text></svg></td><td><svg><text x="36.9 46.7 53.3 65.3 77.2" y="18.5">1.350</text><path d="M29.4 15.9h4.1v4.3h-4.1zM35.3 15.9h3.0v4.3h-3.0z"/></svg></td><td></td></tr>
<tr><td></td><td class="m"><svg><text x="-0.1 13.1 26.0 43.3 50.5" y="17.7">SSW11</text><path d="M34.0 15.1h3.0v4.3h-3.0zM38.6 15.1h2.9v4.3h-2.9zM39.5 15.1h3.0v4.3h-3.0zM44.1 15.1h3.9v4.3h-3.9z"/></svg></td><td class="b"><svg><text x="27.8 39.7 46.3 58.2 70.3" y="17.7">0.062</text></svg></td><td class="b"><svg><text x="48.9 60.7 67.3 79.3" y="17.7">5.00</text></svg></td><td><svg><text x="28.4 40.3 52.2 58.8 70.8 82.8" y="17.7">26.253</text></svg></td><td><svg><text x="77.3 87.3 99.3 111.2" y="17.7">1350</text><path d="M62.2 15.1h4.1v4.3h-4.1zM68.0 15.1h3.0v4.3h-3.0z"/></svg></td><td><svg><text x="27.9 37.6 47.5 59.5 71.5 83.5 95.4 101.9 114.0 125.9" y="17.7">618528.846</text><path d="M31.0 15.1h3.1v4.3h-3.1zM35.9 15.1h3.0v4.3h-3.0z"/></svg></td><td><svg><text x="32.9 44.9 56.8 66.5 76.4 88.4 100.2 106.8 118.8 130.8" y="17.7">306120.686</text><path d="M54.4 15.1h3.1v4.3h-3.1zM59.3 15.1h3.0v4.3h-3.0z"/></svg></td><td><svg><text x="41.4 51.1 57.6 67.3 77.2" y="17.7">1.616</text><path d="M33.1 15.1h4.1v4.3h-4.1zM38.9 15.1h3.0v4.3h-3.0zM55.1 15.1h3.1v4.3h-3.1zM59.9 15.1h3.0v4.3h-3.0z"/></svg></td><td></td></tr>
</tbody></table>
</main>
<footer class="foot"><span class="t" style="--y:-0.10px;--s:0.9307;--o:-0.37px;">Flow+ v15.0 Copyright © 1988-2025 Causeway Technologies Ltd</span></footer>
</div>
</body>
</html>
